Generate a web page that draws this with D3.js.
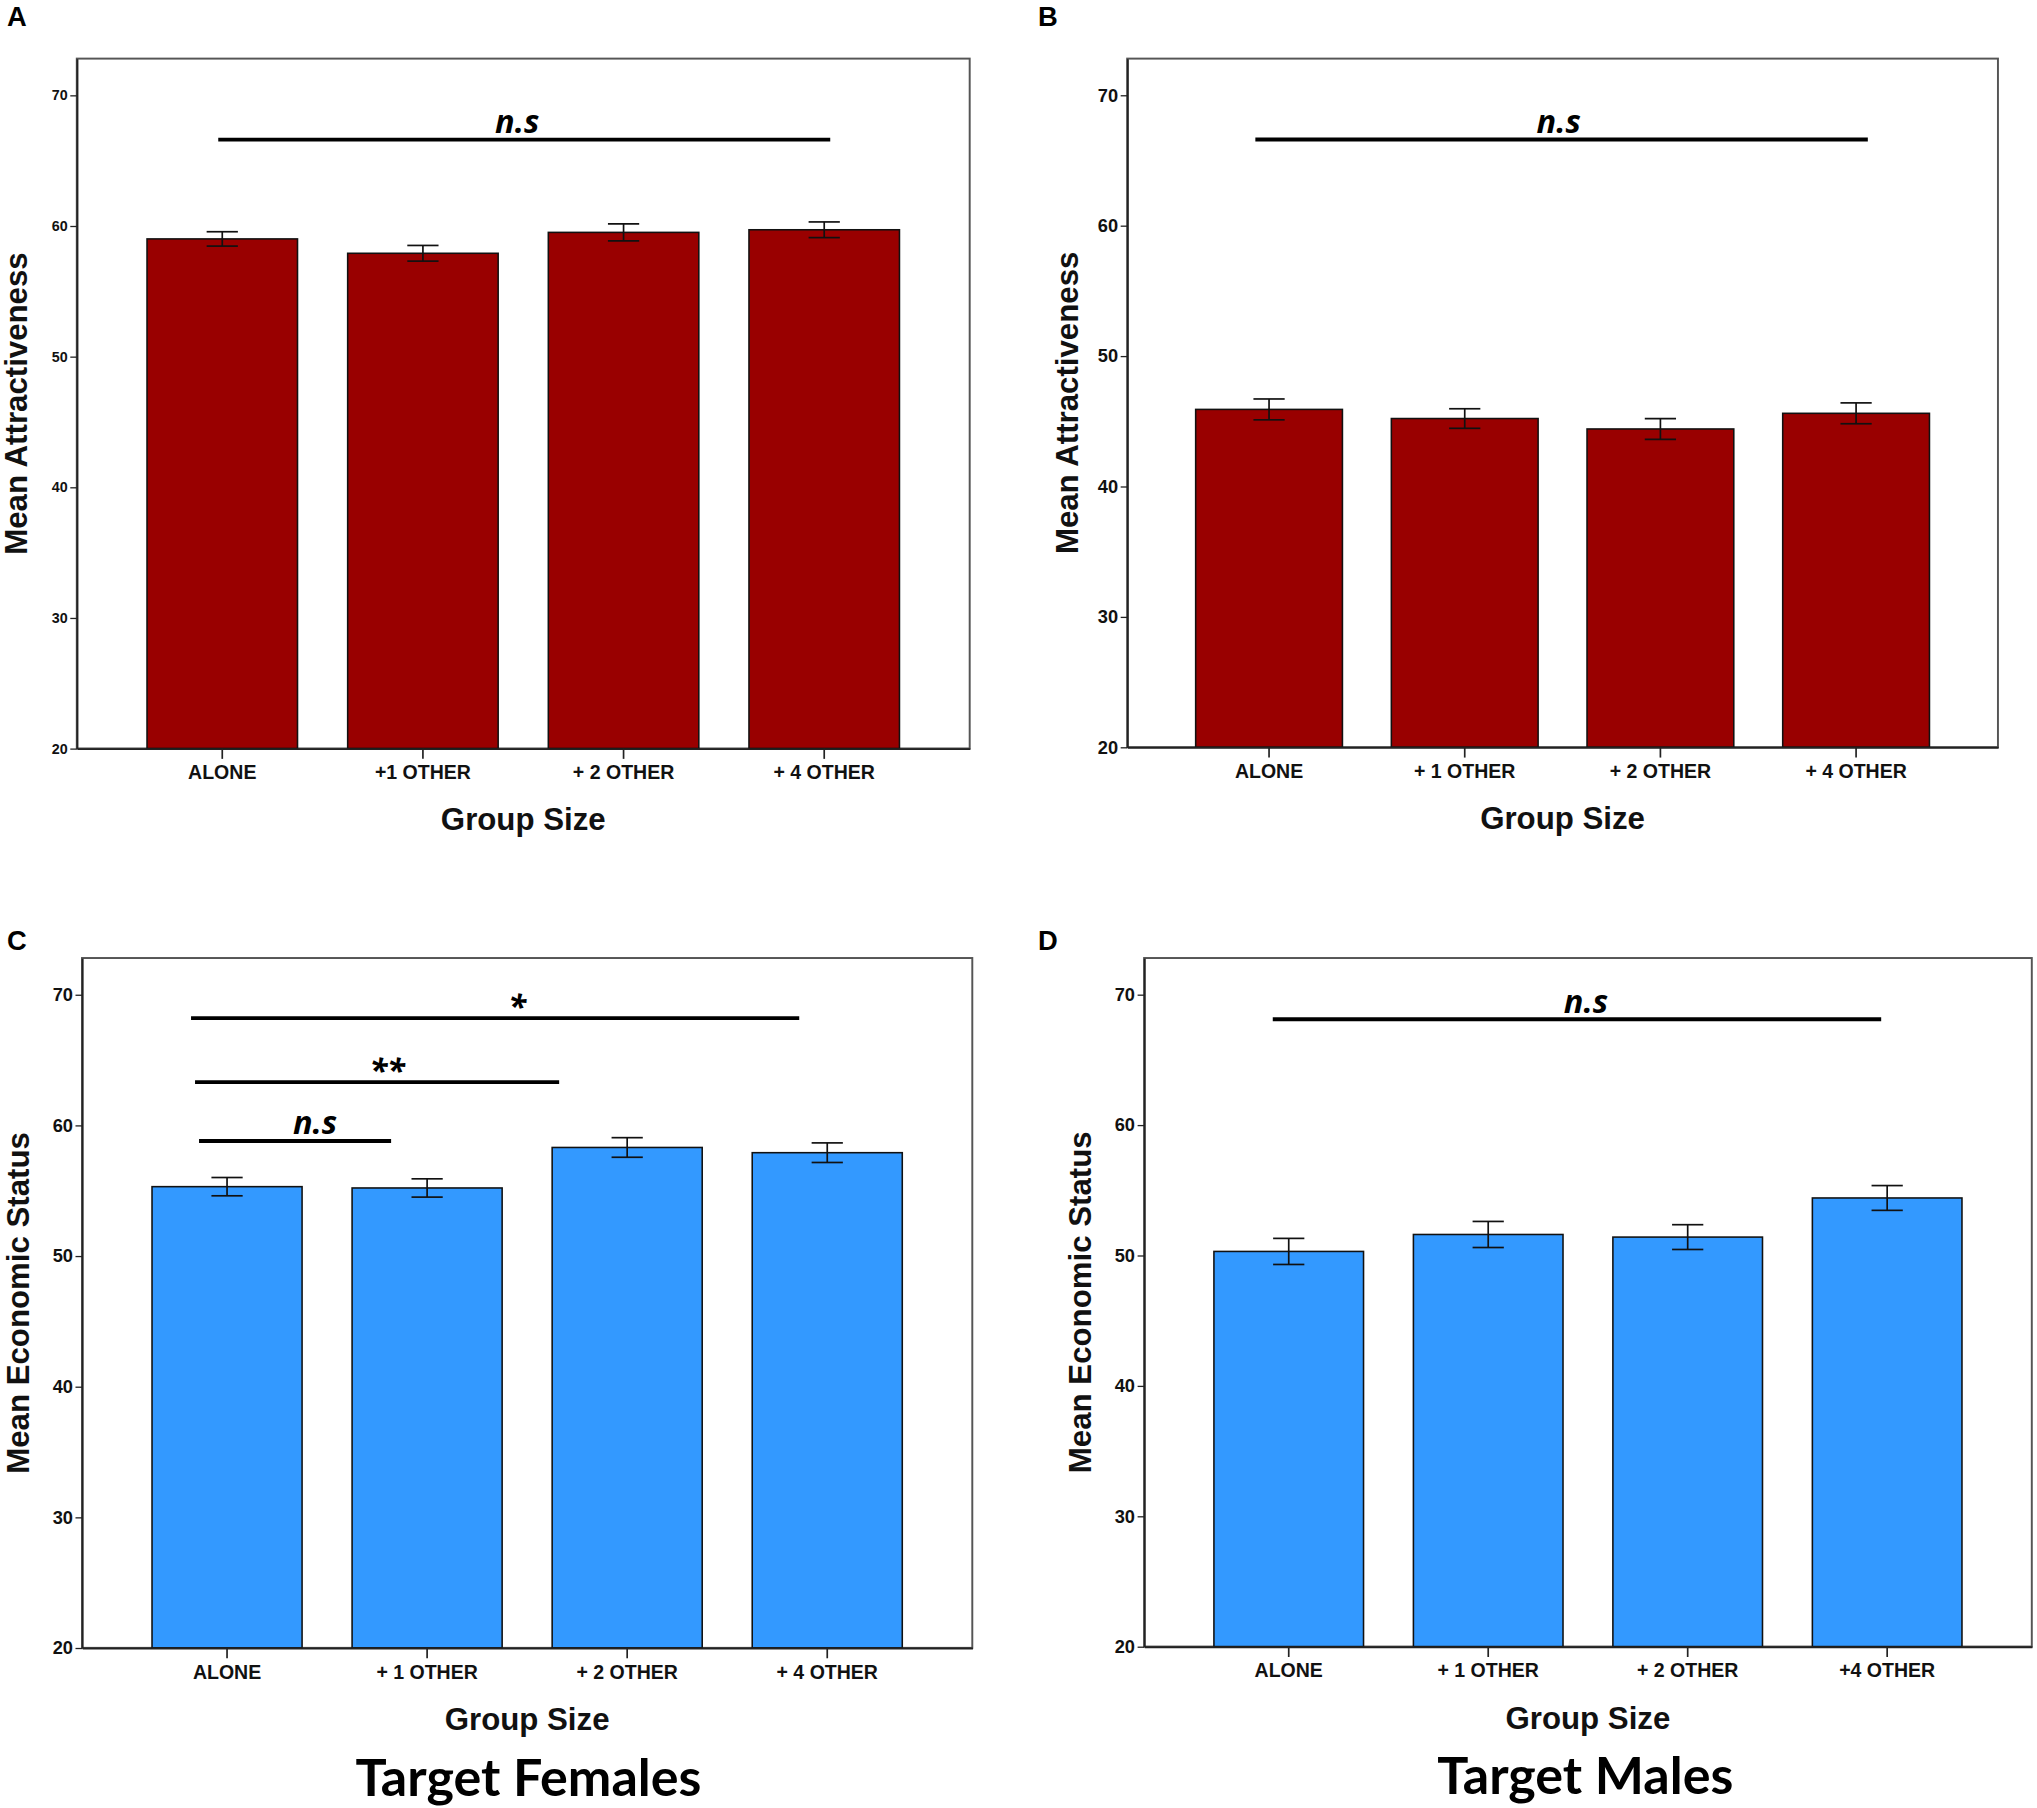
<!DOCTYPE html>
<html lang="en">
<head>
  <meta charset="UTF-8">
  <title>Group Size effects</title>
  <script src="https://d3js.org/d3.v7.min.js"></script>
  <style>
    body { margin: 0; background: #fff; }
    .tick text { font-family: "Liberation Sans Narrow", "Arial Narrow", "Liberation Sans", sans-serif; font-weight: bold; fill: #111; }
    .axis-title { font-family: "Liberation Sans", Arial, sans-serif; font-weight: bold; fill: #111; }
    .sig-label { font-family: "Open Sans", "Noto Sans", sans-serif; font-weight: bold; font-style: italic; fill: #000; }
    .panel-letter { font-family: "Liberation Sans", Arial, sans-serif; font-weight: bold; fill: #000; }
    .footer { font-family: "Lato", "Open Sans", sans-serif; font-weight: bold; fill: #000; }
  </style>
</head>
<body>
  <div id="chart"></div>

  <script>
    // values
    const labelsA = ["ALONE", "+1 OTHER", "+ 2 OTHER", "+ 4 OTHER"];
    const meansA  = [59.0, 57.9, 59.5, 59.7];
    const errA    = [0.55, 0.6, 0.65, 0.6];

    const labelsB = ["ALONE", "+ 1 OTHER", "+ 2 OTHER", "+ 4 OTHER"];
    const meansB  = [45.9, 45.2, 44.4, 45.6];
    const errB    = [0.8, 0.75, 0.8, 0.8];

    const labelsC = ["ALONE", "+ 1 OTHER", "+ 2 OTHER", "+ 4 OTHER"];
    const meansC  = [55.3, 55.2, 58.3, 57.9];
    const errC    = [0.7, 0.7, 0.75, 0.75];

    const labelsD = ["ALONE", "+ 1 OTHER", "+ 2 OTHER", "+4 OTHER"];
    const meansD  = [50.3, 51.6, 51.4, 54.4];
    const errD    = [1.0, 1.0, 0.95, 0.95];

    const yTicks = [20, 30, 40, 50, 60, 70];

    // significance lines: from/to/at in category index units, level in data units
    const sigA = [{from: -0.02, to: 3.03, at: 1.47, level: 66.6, text: "n.s"}];
    const sigB = [{from: -0.07, to: 3.06, at: 1.48, level: 66.6, text: "n.s"}];
    const sigC = [
      {from: -0.18, to: 2.86, at: 1.45, level: 68.2, text: "*"},
      {from: -0.16, to: 1.66, at: 0.80, level: 63.3, text: "**"},
      {from: -0.14, to: 0.82, at: 0.44, level: 58.8, text: "n.s"}
    ];
    const sigD = [{from: -0.08, to: 2.97, at: 1.49, level: 68.1, text: "n.s"}];

    const W = 1565, H = 1389;
    const svg = d3.select("#chart").append("svg")
      .attr("width", 2037).attr("height", 1808)
      .attr("viewBox", `0 0 ${W} ${H}`);

    const panels = [
      {letter: "A", lx: 13, ly: 12, box: [59, 45, 745, 575], labels: labelsA, means: meansA, err: errA, sig: sigA,
       color: "#990000", title: "Mean Attractiveness", ytick: 11, titleDx: 38},
      {letter: "B", lx: 805, ly: 12, box: [866, 45, 1535, 574], labels: labelsB, means: meansB, err: errB, sig: sigB,
       color: "#990000", title: "Mean Attractiveness", ytick: 14, titleDx: 38},
      {letter: "C", lx: 13, ly: 722, box: [63, 736, 747, 1266], labels: labelsC, means: meansC, err: errC, sig: sigC,
       color: "#3399ff", title: "Mean Economic Status", ytick: 14, titleDx: 41},
      {letter: "D", lx: 805, ly: 722, box: [879, 736, 1561, 1265], labels: labelsD, means: meansD, err: errD, sig: sigD,
       color: "#3399ff", title: "Mean Economic Status", ytick: 14, titleDx: 41}
    ];

    panels.forEach(p => {
      const [x0, y0, x1, y1] = p.box;
      const g = svg.append("g");

      const x = d3.scaleBand().domain(p.labels).range([x0, x1])
                  .paddingInner(0.25).paddingOuter(0.35);
      const y = d3.scaleLinear().domain([20, 72.8]).range([y1, y0]);
      const xi = d3.scaleLinear().domain([0, 3])
                   .range([x(p.labels[0]) + x.bandwidth() / 2, x(p.labels[3]) + x.bandwidth() / 2]);

      // frame
      g.append("rect")
        .attr("x", x0).attr("y", y0)
        .attr("width", x1 - x0).attr("height", y1 - y0)
        .attr("fill", "none").attr("stroke", "#555").attr("stroke-width", 1.5);

      // bars
      g.selectAll(".bar").data(p.means).enter().append("rect")
        .attr("class", "bar")
        .attr("x", (d, i) => x(p.labels[i]))
        .attr("y", d => y(d))
        .attr("width", x.bandwidth())
        .attr("height", d => y1 - y(d))
        .attr("fill", p.color)
        .attr("stroke", "#111").attr("stroke-width", 1.2);

      // error bars
      const cx = i => x(p.labels[i]) + x.bandwidth() / 2;
      const eb = g.selectAll(".err").data(p.means).enter().append("g");
      eb.append("line")
        .attr("x1", (d, i) => cx(i)).attr("x2", (d, i) => cx(i))
        .attr("y1", (d, i) => y(d + p.err[i]))
        .attr("y2", (d, i) => y(d - p.err[i]));
      eb.append("line")
        .attr("x1", (d, i) => cx(i) - 12).attr("x2", (d, i) => cx(i) + 12)
        .attr("y1", (d, i) => y(d + p.err[i]))
        .attr("y2", (d, i) => y(d + p.err[i]));
      eb.append("line")
        .attr("x1", (d, i) => cx(i) - 12).attr("x2", (d, i) => cx(i) + 12)
        .attr("y1", (d, i) => y(d - p.err[i]))
        .attr("y2", (d, i) => y(d - p.err[i]));
      eb.selectAll("line").attr("stroke", "#111").attr("stroke-width", 1.3);

      // axes
      const yAxis = g.append("g")
        .attr("transform", `translate(${x0},0)`)
        .call(d3.axisLeft(y).tickValues(yTicks).tickSize(5).tickSizeOuter(0).tickPadding(2));
      yAxis.select(".domain").attr("stroke", "#222").attr("stroke-width", 1.5);
      yAxis.selectAll(".tick line").attr("stroke", "#222");
      yAxis.selectAll(".tick text").style("font-size", p.ytick + "px");

      const xAxis = g.append("g")
        .attr("transform", `translate(0,${y1})`)
        .call(d3.axisBottom(x).tickSize(8).tickSizeOuter(0).tickPadding(5));
      xAxis.select(".domain").attr("stroke", "#222").attr("stroke-width", 1.5);
      xAxis.selectAll(".tick line").attr("stroke", "#222").attr("stroke-width", 1.3);
      xAxis.selectAll(".tick text").style("font-size", "15px");

      // axis titles
      g.append("text").attr("class", "axis-title")
        .attr("x", (x0 + x1) / 2).attr("y", y1 + 63)
        .attr("text-anchor", "middle").style("font-size", "24px")
        .text("Group Size");
      g.append("text").attr("class", "axis-title")
        .attr("transform", `translate(${x0 - p.titleDx},${(y0 + y1) / 2}) rotate(-90)`)
        .attr("text-anchor", "middle").style("font-size", "24px")
        .text(p.title);

      // significance markers
      g.selectAll(".sig").data(p.sig).enter().append("line")
        .attr("x1", d => xi(d.from)).attr("x2", d => xi(d.to))
        .attr("y1", d => y(d.level)).attr("y2", d => y(d.level))
        .attr("stroke", "#000").attr("stroke-width", 3);
      g.selectAll(".sig-label").data(p.sig).enter().append("text")
        .attr("class", "sig-label")
        .attr("x", d => xi(d.at))
        .attr("y", d => y(d.level) - (d.text === "n.s" ? 5 : 0))
        .attr("text-anchor", "middle")
        .style("font-size", "25px")
        .text(d => d.text);

      // panel letter
      svg.append("text").attr("class", "panel-letter")
        .attr("x", p.lx).attr("y", p.ly + 8)
        .attr("text-anchor", "middle").style("font-size", "21px")
        .text(p.letter);
    });

    svg.append("text").attr("class", "footer")
      .attr("x", 406).attr("y", 1380).attr("text-anchor", "middle")
      .style("font-size", "40px").text("Target Females");
    svg.append("text").attr("class", "footer")
      .attr("x", 1218).attr("y", 1378).attr("text-anchor", "middle")
      .style("font-size", "40px").text("Target Males");
  </script>
</body>
</html>
